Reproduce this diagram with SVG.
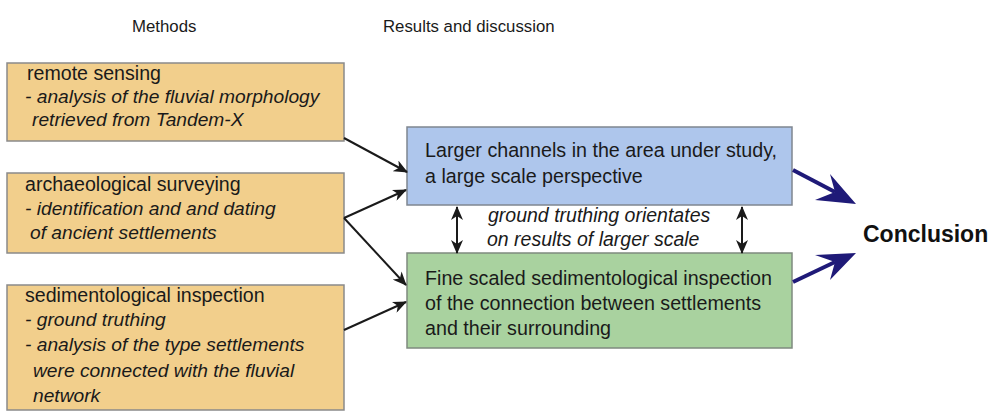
<svg xmlns="http://www.w3.org/2000/svg" width="995" height="412" viewBox="0 0 995 412">
<style>
text{font-family:"Liberation Sans",Arial,sans-serif;fill:#1a1a1a}
.hd{font-size:16.8px}
.m{font-size:19.6px}
.mi{font-size:19.2px;font-style:italic}
.r{font-size:19.7px}
.ri{font-size:19.5px;font-style:italic}
.tan{fill:#f2cf8c;stroke:#8a8a8a;stroke-width:1.5}
.blue{fill:#aec6ec;stroke:#7f8690;stroke-width:1.5}
.green{fill:#a9d29f;stroke:#7f8a7f;stroke-width:1.5}
.ar{stroke:#1a1a1a;stroke-width:2;fill:none}
.nav{stroke:#1f1a78;stroke-width:4;fill:none}
</style>
<defs>
<marker id="ah" viewBox="0 0 14 12" refX="13" refY="6" markerWidth="14" markerHeight="12" markerUnits="userSpaceOnUse" orient="auto-start-reverse">
<path d="M0,0 L14,6 L0,12 L4,6 Z" fill="#1a1a1a"/>
</marker>
</defs>
<rect width="995" height="412" fill="#ffffff"/>
<text class="hd" x="132" y="32">Methods</text>
<text class="hd" x="383" y="32">Results and discussion</text>
<g id="remote">
<rect class="tan" x="7" y="63" width="337" height="78"/>
<text class="m" x="27" y="80">remote sensing</text>
<text class="mi" x="25" y="103">- analysis of the fluvial morphology</text>
<text class="mi" x="32" y="126">retrieved from Tandem-X</text>
</g>
<g id="archaeo">
<rect class="tan" x="7" y="173" width="337" height="80"/>
<text class="m" x="25" y="191">archaeological surveying</text>
<text class="mi" x="25" y="215">- identification and and dating</text>
<text class="mi" x="30" y="239">of ancient settlements</text>
</g>
<g id="sedi">
<rect class="tan" x="7" y="285" width="337" height="125"/>
<text class="m" x="25" y="302">sedimentological inspection</text>
<text class="mi" x="25" y="326">- ground truthing</text>
<text class="mi" x="25" y="351">- analysis of the type settlements</text>
<text class="mi" x="33" y="377">were connected with the fluvial</text>
<text class="mi" x="33" y="402">network</text>
</g>
<g id="larger">
<rect class="blue" x="407" y="127" width="385" height="78"/>
<text class="r" x="425" y="157">Larger channels in the area under study,</text>
<text class="r" x="425" y="183">a large scale perspective</text>
</g>
<g id="fine">
<rect class="green" x="407" y="253" width="385" height="95"/>
<text class="r" x="425" y="285">Fine scaled sedimentological inspection</text>
<text class="r" x="425" y="310">of the connection between settlements</text>
<text class="r" x="425" y="335">and their surrounding</text>
</g>
<g id="conclusion">
<text x="863" y="242" style="font-size:23px;font-weight:bold;fill:#111">Conclusion</text>
</g>
<g id="label">
<text class="ri" x="488" y="222">ground truthing orientates</text>
<text class="ri" x="487" y="246">on results of larger scale</text>
</g>
<g id="connectors">
<line class="ar" x1="344" y1="138" x2="407" y2="172" marker-end="url(#ah)"/>
<line class="ar" x1="344" y1="218" x2="406" y2="190" marker-end="url(#ah)"/>
<line class="ar" x1="344" y1="218" x2="406" y2="285" marker-end="url(#ah)"/>
<line class="ar" x1="344" y1="330" x2="406" y2="302" marker-end="url(#ah)"/>
<line class="ar" x1="457" y1="207" x2="457" y2="253" marker-start="url(#ah)" marker-end="url(#ah)"/>
<line class="ar" x1="742" y1="207" x2="742" y2="253" marker-start="url(#ah)" marker-end="url(#ah)"/>
<line class="nav" x1="793" y1="170" x2="835" y2="192"/>
<path d="M856,204 L830,174 L835,192 L815,200 Z" fill="#1f1a78"/>
<line class="nav" x1="793" y1="282" x2="835" y2="262"/>
<path d="M856,253 L815,255 L835,262 L830,280 Z" fill="#1f1a78"/>
</g>
</svg>
